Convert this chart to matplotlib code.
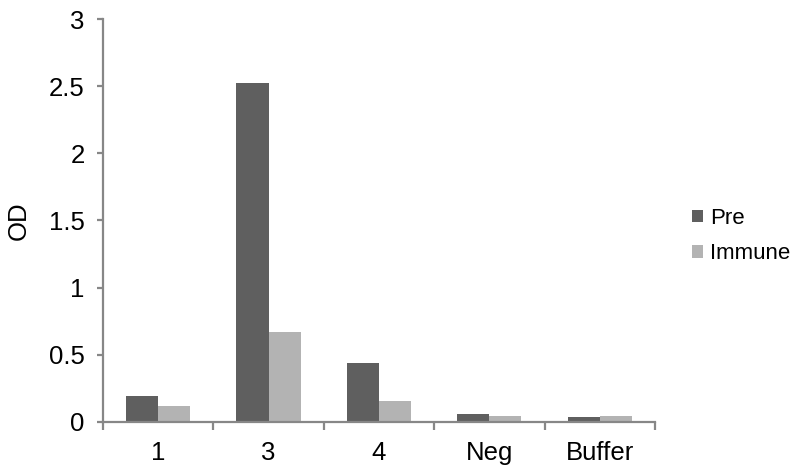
import numpy as np
import matplotlib
matplotlib.use('Agg')
import matplotlib.pyplot as plt

categories = ['1', '3', '4', 'Neg', 'Buffer']
pre = [0.19, 2.52, 0.44, 0.057, 0.035]
immune = [0.118, 0.67, 0.153, 0.046, 0.046]

plt.rcParams['font.family'] = ['Liberation Sans', 'DejaVu Sans']

fig = plt.figure(figsize=(7.97, 4.76), dpi=100)
ax = fig.add_axes([0.129, 0.114, 0.693, 0.846])

x = np.arange(len(categories))
w = 0.29
ax.bar(x - w / 2, pre, w, color='#5f5f5f', label='Pre')
ax.bar(x + w / 2, immune, w, color='#b3b3b3', label='Immune')

ax.set_xlim(-0.5, len(categories) - 0.5)
ax.set_ylim(0, 3)
ax.set_yticks(np.arange(0, 3.01, 0.5))
ax.set_yticklabels(['0', '0.5', '1', '1.5', '2', '2.5', '3'])
ax.set_xticks(x)
ax.set_xticklabels(categories)
ax.set_xticks(np.arange(-0.5, len(categories), 1), minor=True)

axis_col = '#878787'
for s in ['top', 'right']:
    ax.spines[s].set_visible(False)
for s in ['left', 'bottom']:
    ax.spines[s].set_color(axis_col)
    ax.spines[s].set_linewidth(1.6)

ax.tick_params(axis='x', which='major', length=0, labelsize=18.5, pad=14)
ax.tick_params(axis='x', which='minor', length=6, width=1.6, color=axis_col)
ax.tick_params(axis='y', length=4, width=1.6, color=axis_col, labelsize=18.5, pad=9)

ax.set_ylabel('OD', fontsize=18.5, labelpad=13)

ax.legend(loc='center left', bbox_to_anchor=(1.067, 0.461), frameon=False,
          fontsize=16, handlelength=0.5, handleheight=0.5, handletextpad=0.3,
          labelspacing=0.65, borderpad=0, borderaxespad=0)

fig.savefig('out.png', dpi=100)
